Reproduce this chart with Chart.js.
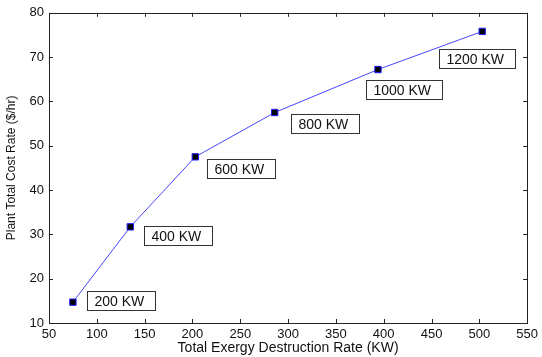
<!DOCTYPE html>
<html>
<head>
<meta charset="utf-8">
<script src="https://cdn.jsdelivr.net/npm/chart.js@4/dist/chart.umd.min.js"></script>
<style>
  html, body { margin: 0; padding: 0; background: #fff; }
  canvas { display: block; }
</style>
</head>
<body>
<canvas id="chart" width="542" height="357"></canvas>
<script>
// values
const exergy = [75, 135, 203, 286, 394, 503];
const cost = [14.7, 31.7, 47.5, 57.5, 67.2, 75.8];
const capacity = ['200 KW', '400 KW', '600 KW', '800 KW', '1000 KW', '1200 KW'];
const xTicks = [50, 100, 150, 200, 250, 300, 350, 400, 450, 500, 550];
const yTicks = [10, 20, 30, 40, 50, 60, 70, 80];

// where each text box sits relative to its point, in pixels
const boxOffset = [[14, -11], [14, -1], [12, 2], [16, 1], [-12, 10], [-43, 18]];

const FONT = '"Liberation Sans", Arial, sans-serif';
const INK = '#111';

const frameAndLabels = {
    id: 'frameAndLabels',
    afterDatasetsDraw(chart) {
        const ctx = chart.ctx;
        const {left, right, top, bottom} = chart.chartArea;
        const xs = chart.scales.x, ys = chart.scales.y;
        const t = 4;

        ctx.save();
        ctx.strokeStyle = '#222';
        ctx.lineWidth = 1;
        ctx.strokeRect(Math.round(left) + 0.5, Math.round(top) + 0.5,
            Math.round(right - left), Math.round(bottom - top));

        ctx.beginPath();
        xTicks.forEach(v => {
            const px = Math.round(xs.getPixelForValue(v)) + 0.5;
            ctx.moveTo(px, bottom); ctx.lineTo(px, bottom - t);
            ctx.moveTo(px, top); ctx.lineTo(px, top + t);
        });
        yTicks.forEach(v => {
            const py = Math.round(ys.getPixelForValue(v)) + 0.5;
            ctx.moveTo(left, py); ctx.lineTo(left + t, py);
            ctx.moveTo(right, py); ctx.lineTo(right - t, py);
        });
        ctx.stroke();

        // text boxes next to the points
        ctx.font = '14px ' + FONT;
        ctx.textBaseline = 'middle';
        const meta = chart.getDatasetMeta(0);
        meta.data.forEach((pt, i) => {
            const bx = Math.round(pt.x + boxOffset[i][0]) + 0.5;
            const by = Math.round(pt.y + boxOffset[i][1]) + 0.5;
            const w = Math.round(ctx.measureText(capacity[i]).width) + 18;
            const h = 19;
            ctx.fillStyle = '#fff';
            ctx.fillRect(bx, by, w, h);
            ctx.strokeStyle = '#333';
            ctx.strokeRect(bx, by, w, h);
            ctx.fillStyle = INK;
            ctx.fillText(capacity[i], bx + 7, by + h / 2 + 1);
        });
        ctx.restore();
    }
};

new Chart(document.getElementById('chart'), {
    type: 'line',
    data: {
        datasets: [{
            data: exergy.map((x, i) => ({x: x, y: cost[i]})),
            borderColor: '#4646ff',
            borderWidth: 1,
            pointStyle: 'rect',
            pointRadius: 4.5,
            pointBackgroundColor: '#000',
            pointBorderColor: '#2020ff',
            pointBorderWidth: 1,
            tension: 0
        }]
    },
    options: {
        responsive: false,
        animation: false,
        devicePixelRatio: 1,
        layout: {padding: {top: 12, right: 13, left: 0, bottom: 0}},
        plugins: {legend: {display: false}, tooltip: {enabled: false}},
        scales: {
            x: {
                type: 'linear',
                min: 50,
                max: 550,
                afterFit: s => { s.height = 34; },
                afterBuildTicks: s => { s.ticks = xTicks.map(v => ({value: v})); },
                grid: {display: false, drawTicks: false},
                border: {display: false},
                ticks: {
                    autoSkip: false, maxRotation: 0, padding: 4,
                    color: INK, font: {family: FONT, size: 13}
                },
                title: {
                    display: true, text: 'Total Exergy Destruction Rate (KW)',
                    color: INK, font: {family: FONT, size: 14},
                    padding: {top: 0, bottom: 0}
                }
            },
            y: {
                min: 10,
                max: 80,
                afterFit: s => { s.width = 49; },
                afterBuildTicks: s => { s.ticks = yTicks.map(v => ({value: v})); },
                grid: {display: false, drawTicks: false},
                border: {display: false},
                ticks: {
                    padding: 5, color: INK, font: {family: FONT, size: 13}
                },
                title: {
                    display: true, text: 'Plant Total Cost Rate ($/hr)',
                    color: INK, font: {family: FONT, size: 12},
                    padding: {top: 4, bottom: 0}
                }
            }
        }
    },
    plugins: [frameAndLabels]
});
</script>
</body>
</html>
